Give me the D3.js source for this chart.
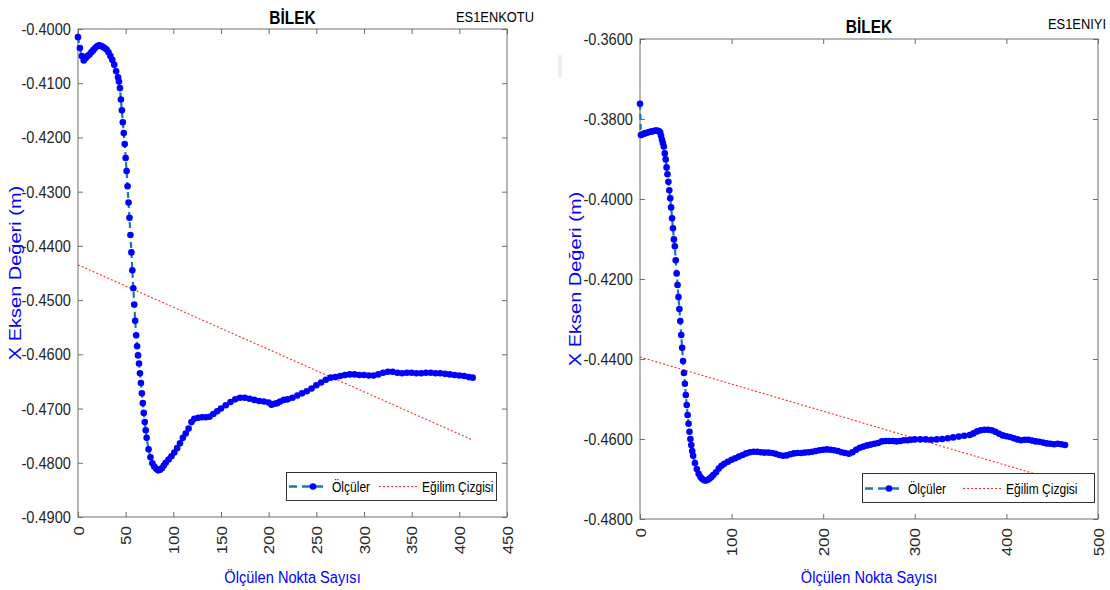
<!DOCTYPE html>
<html>
<head>
<meta charset="utf-8">
<script src="https://cdn.jsdelivr.net/npm/d3@7"></script>
<style>
  body { margin: 0; background: #fff; }
  text { font-family: "Liberation Sans", Arial, sans-serif; }
</style>
</head>
<body>
<div id="chart"></div>
<script>
// ---- data ----
// left panel (ES1ENKOTU)
const leftIdx = [0, 2, 4, 6, 8, 10, 12, 14, 16, 18, 20, 22, 24, 26, 28, 30, 32, 34, 36, 38, 40, 42, 43, 44,
  45, 46, 47, 48, 49, 50, 51, 52, 53, 54, 55, 56, 57, 58, 59, 60, 61, 62, 63, 64, 65, 66, 67, 68, 69, 70, 71, 72,
  74, 76, 78, 80, 82, 84, 86, 88, 90, 92, 95, 98, 101, 104, 107, 110, 113, 116, 119, 122, 126, 130, 134, 138,
  142, 146, 150, 155, 160, 165, 170, 175, 180, 185, 190, 195, 200, 203, 206, 209, 212, 216, 220, 225, 230, 235,
  240, 245, 250, 255, 260, 265, 270, 275, 280, 285, 290, 295, 300, 305, 310, 315, 320, 325, 330, 335, 340, 345,
  350, 355, 360, 365, 370, 375, 380, 385, 390, 395, 400, 405, 410, 414];
const leftVal = [-0.4015, -0.4035, -0.4050, -0.4058, -0.4054, -0.4050, -0.4047, -0.4043, -0.4039, -0.4035, -0.4032,
  -0.4030, -0.4031, -0.4033, -0.4035, -0.4038, -0.4043, -0.4050, -0.4057, -0.4066, -0.4078, -0.4089, -0.4097, -0.4109,
  -0.4130, -0.4150, -0.4172, -0.4192, -0.4212, -0.4238, -0.4262, -0.4290, -0.4320, -0.4348, -0.4380, -0.4412, -0.4445,
  -0.4478, -0.4508, -0.4538, -0.4565, -0.4585, -0.4602, -0.4617, -0.4635, -0.4653, -0.4672, -0.4690, -0.4708, -0.4725,
  -0.4740, -0.4754, -0.4775, -0.4790, -0.4801, -0.4807, -0.4811, -0.4814, -0.4813, -0.4810, -0.4805, -0.4800, -0.4794,
  -0.4788, -0.4781, -0.4773, -0.4764, -0.4754, -0.4746, -0.4737, -0.4725, -0.4719, -0.4717, -0.4716, -0.4716, -0.4715,
  -0.4710, -0.4705, -0.4700, -0.4694, -0.4688, -0.4683, -0.4680, -0.4680, -0.4682, -0.4684, -0.4686, -0.4687, -0.4689,
  -0.4693, -0.4691, -0.4690, -0.4687, -0.4684, -0.4683, -0.4680, -0.4676, -0.4672, -0.4668, -0.4663, -0.4657, -0.4652,
  -0.4647, -0.4643, -0.4642, -0.4640, -0.4638, -0.4637, -0.4637, -0.4638, -0.4638, -0.4639, -0.4639, -0.4637, -0.4634,
  -0.4632, -0.4632, -0.4634, -0.4635, -0.4634, -0.4634, -0.4635, -0.4635, -0.4634, -0.4634, -0.4635, -0.4635, -0.4636,
  -0.4637, -0.4638, -0.4639, -0.4640, -0.4642, -0.4643];
const leftTrendIdx = [0, 414];
const leftTrendVal = [-0.4435, -0.4758];
const leftXTicks = [0, 50, 100, 150, 200, 250, 300, 350, 400, 450];
const leftYTicks = [-0.49, -0.48, -0.47, -0.46, -0.45, -0.44, -0.43, -0.42, -0.41, -0.40];

// right panel (ES1ENIYI)
const rightIdx = [0, 1, 3, 5, 7, 9, 11, 13, 15, 17, 19, 21, 22, 23, 24, 25, 26, 27, 28, 29, 30, 31, 32, 33, 34, 35,
  36, 37, 38, 39, 40, 41, 42, 43, 44, 45, 46, 47, 48, 49, 50, 51, 52, 53, 54, 55, 56, 57, 58, 60, 62, 64, 66, 68, 70,
  72, 74, 76, 78, 80, 83, 86, 89, 92, 96, 100, 104, 108, 112, 116, 120, 124, 128, 132, 136, 140, 144, 148, 152, 156,
  160, 164, 168, 172, 176, 180, 184, 188, 192, 196, 200, 204, 208, 212, 216, 220, 224, 228, 232, 236, 240, 244, 248,
  252, 256, 260, 264, 268, 272, 276, 280, 284, 288, 292, 296, 300, 306, 312, 318, 324, 330, 336, 342, 348, 354, 360,
  364, 368, 372, 376, 380, 384, 388, 392, 396, 400, 404, 408, 412, 416, 420, 424, 428, 432, 436, 440, 444, 448, 452,
  456, 460, 464];
const rightVal = [-0.3762, -0.3840, -0.3838, -0.3836, -0.3835, -0.3833, -0.3832, -0.3831, -0.3830, -0.3829, -0.3829,
  -0.3831, -0.3834, -0.3842, -0.3852, -0.3860, -0.3869, -0.3886, -0.3901, -0.3921, -0.3938, -0.3957, -0.3978, -0.3998,
  -0.4021, -0.4048, -0.4073, -0.4101, -0.4118, -0.4153, -0.4186, -0.4215, -0.4245, -0.4275, -0.4305, -0.4340, -0.4372,
  -0.4405, -0.4435, -0.4462, -0.4490, -0.4515, -0.4540, -0.4562, -0.4582, -0.4600, -0.4615, -0.4630, -0.4642, -0.4660,
  -0.4675, -0.4687, -0.4695, -0.4700, -0.4703, -0.4704, -0.4702, -0.4699, -0.4695, -0.4690, -0.4683, -0.4674, -0.4667,
  -0.4662, -0.4657, -0.4652, -0.4648, -0.4644, -0.4640, -0.4636, -0.4633, -0.4632, -0.4632, -0.4633, -0.4634, -0.4634,
  -0.4635, -0.4637, -0.4640, -0.4642, -0.4641, -0.4638, -0.4636, -0.4635, -0.4635, -0.4634, -0.4633, -0.4632, -0.4630,
  -0.4628, -0.4627, -0.4626, -0.4627, -0.4628, -0.4630, -0.4633, -0.4635, -0.4637, -0.4633, -0.4627, -0.4622, -0.4619,
  -0.4616, -0.4614, -0.4612, -0.4610, -0.4606, -0.4605, -0.4605, -0.4605, -0.4606, -0.4605, -0.4603, -0.4603, -0.4602,
  -0.4601, -0.4601, -0.4601, -0.4602, -0.4601, -0.4600, -0.4598, -0.4596, -0.4594, -0.4592, -0.4590, -0.4586, -0.4581,
  -0.4578, -0.4577, -0.4577, -0.4578, -0.4582, -0.4587, -0.4591, -0.4593, -0.4595, -0.4598, -0.4601, -0.4603, -0.4602,
  -0.4602, -0.4604, -0.4606, -0.4607, -0.4609, -0.4611, -0.4612, -0.4613, -0.4612, -0.4613, -0.4615];
const rightTrendIdx = [0, 465];
const rightTrendVal = [-0.4395, -0.4710];
const rightXTicks = [0, 100, 200, 300, 400, 500];
const rightYTicks = [-0.48, -0.46, -0.44, -0.42, -0.40, -0.38, -0.36];

const titleText = "BİLEK";
const xLabel = "Ölçülen Nokta Sayısı";
const yLabel = "X Eksen Değeri (m)";
const legendNames = ["Ölçüler", "Eğilim Çizgisi"];

// ---- drawing ----
const SQ = 0.86; // horizontal squeeze of the original picture's text

let svg = d3.select("#chart").append("svg")
    .attr("width", 1110)
    .attr("height", 590)
    .style("background", "#fff");

// faint artifact between the two panels
svg.append("rect")
    .attr("x", 558).attr("y", 55).attr("width", 4).attr("height", 22)
    .attr("fill", "#eeeeee");

function addText(x, y, str, size, opts = {}) {
    let t = svg.append("text")
        .attr("transform", `translate(${x},${y}) scale(${SQ},1)` + (opts.rotate ? " rotate(-90)" : ""))
        .attr("font-size", size)
        .attr("text-anchor", opts.anchor || "middle")
        .attr("fill", opts.color || "#000")
        .attr("font-weight", opts.bold ? "bold" : "normal")
        .text(str);
    return t;
}

function drawPanel(p) {
    let xScale = d3.scaleLinear().domain(p.xDomain).range([p.x0, p.x1]);
    let yScale = d3.scaleLinear().domain(p.yDomain).range([p.y1, p.y0]);

    let g = svg.append("g");

    // box
    g.append("rect")
        .attr("x", p.x0).attr("y", p.y0)
        .attr("width", p.x1 - p.x0).attr("height", p.y1 - p.y0)
        .attr("fill", "none").attr("stroke", "#6e6e6e").attr("stroke-width", 1);

    // left axis with labels
    let yAxis = d3.axisLeft(yScale).tickValues(p.yTicks).tickSize(-5).tickSizeOuter(0)
        .tickPadding(7).tickFormat(d => d.toFixed(4));
    let ya = g.append("g").attr("transform", `translate(${p.x0},0)`).call(yAxis);
    ya.select(".domain").remove();
    ya.selectAll("line").attr("stroke", "#6e6e6e");
    ya.selectAll("text")
        .attr("font-size", 17).attr("fill", "#262626")
        .attr("transform", `scale(${SQ},1)`)
        .attr("x", -7 / SQ);

    // right axis, ticks only
    let ra = g.append("g").attr("transform", `translate(${p.x1},0)`)
        .call(d3.axisRight(yScale).tickValues(p.yTicks).tickSize(-5).tickSizeOuter(0).tickFormat(""));
    ra.select(".domain").remove();
    ra.selectAll("line").attr("stroke", "#6e6e6e");

    // bottom axis with rotated labels
    let xAxis = d3.axisBottom(xScale).tickValues(p.xTicks).tickSize(-5).tickSizeOuter(0);
    let xa = g.append("g").attr("transform", `translate(0,${p.y1})`).call(xAxis);
    xa.select(".domain").remove();
    xa.selectAll("line").attr("stroke", "#6e6e6e");
    xa.selectAll("text")
        .attr("font-size", 17).attr("fill", "#262626")
        .attr("transform", `scale(${SQ},1) rotate(-90)`)
        .attr("text-anchor", "end")
        .attr("x", -9).attr("y", 0).attr("dy", "0.35em");

    // top axis, ticks only
    let ta = g.append("g").attr("transform", `translate(0,${p.y0})`)
        .call(d3.axisTop(xScale).tickValues(p.xTicks).tickSize(-5).tickSizeOuter(0).tickFormat(""));
    ta.select(".domain").remove();
    ta.selectAll("line").attr("stroke", "#6e6e6e");

    // trend line
    let trend = p.trendIdx.map((d, i) => [d, p.trendVal[i]]);
    g.append("path")
        .datum(trend)
        .attr("fill", "none")
        .attr("stroke", "#ff2a2a")
        .attr("stroke-width", 1.1)
        .attr("stroke-dasharray", "2,2")
        .attr("d", d3.line().x(d => xScale(d[0])).y(d => yScale(d[1])));

    // measurements: dashed line + dot markers
    let pts = p.idx.map((d, i) => [d, p.val[i]]);
    g.append("path")
        .datum(pts)
        .attr("fill", "none")
        .attr("stroke", "#1478c0")
        .attr("stroke-width", 2.2)
        .attr("stroke-dasharray", "6,4")
        .attr("d", d3.line().x(d => xScale(d[0])).y(d => yScale(d[1])));
    g.selectAll(".dot")
        .data(pts)
        .join("circle")
        .attr("class", "dot")
        .attr("cx", d => xScale(d[0]))
        .attr("cy", d => yScale(d[1]))
        .attr("r", 3.3)
        .attr("fill", "#0000ff");

    // legend
    let L = p.legend;
    g.append("rect")
        .attr("x", L.x + 0.5).attr("y", L.y + 0.5).attr("width", L.w).attr("height", L.h)
        .attr("fill", "#fff").attr("stroke", "#333").attr("stroke-width", 1);
    let ly = Math.round(L.y + L.h / 2) + 0.5;
    g.append("line")
        .attr("x1", L.x + 3).attr("x2", L.x + 37).attr("y1", ly).attr("y2", ly)
        .attr("stroke", "#1478c0").attr("stroke-width", 2.5).attr("stroke-dasharray", "8,5");
    g.append("circle")
        .attr("cx", L.x + 27).attr("cy", ly).attr("r", 3.3).attr("fill", "#0000ff");
    addText(L.x + 46, ly + 5, legendNames[0], 14, {anchor: "start", color: "#000"});
    g.append("line")
        .attr("x1", L.x + L.redX).attr("x2", L.x + L.redX + 38).attr("y1", ly).attr("y2", ly)
        .attr("stroke", "#ff2a2a").attr("stroke-width", 1).attr("stroke-dasharray", "2,2");
    addText(L.x + L.redX + 43, ly + 5, legendNames[1], 14, {anchor: "start", color: "#000"});

    // titles and labels
    let cx = (p.x0 + p.x1) / 2;
    addText(cx, p.titleY, titleText, 18, {bold: true});
    addText(p.tagX, p.tagY, p.tag, 15, {anchor: "end", color: "#000"});
    addText(cx, 583, xLabel, 17, {color: "#0000ff"});
    addText(p.yLabelX, (p.y0 + p.y1) / 2, yLabel, 20, {rotate: true, color: "#0000ff"});
}

drawPanel({
    x0: 78, x1: 507, y0: 29, y1: 517,
    xDomain: [0, 450], yDomain: [-0.49, -0.40],
    xTicks: leftXTicks, yTicks: leftYTicks,
    idx: leftIdx, val: leftVal,
    trendIdx: leftTrendIdx, trendVal: leftTrendVal,
    legend: {x: 286, y: 472, w: 210, h: 28, redX: 93},
    titleY: 24, tag: "ES1ENKOTU", tagX: 534, tagY: 22,
    yLabelX: 21
});

drawPanel({
    x0: 640, x1: 1098, y0: 39, y1: 519,
    xDomain: [0, 500], yDomain: [-0.48, -0.36],
    xTicks: rightXTicks, yTicks: rightYTicks,
    idx: rightIdx, val: rightVal,
    trendIdx: rightTrendIdx, trendVal: rightTrendVal,
    legend: {x: 862, y: 473, w: 232, h: 29, redX: 101},
    titleY: 33, tag: "ES1ENIYI", tagX: 1106, tagY: 29,
    yLabelX: 581
});
</script>
</body>
</html>
